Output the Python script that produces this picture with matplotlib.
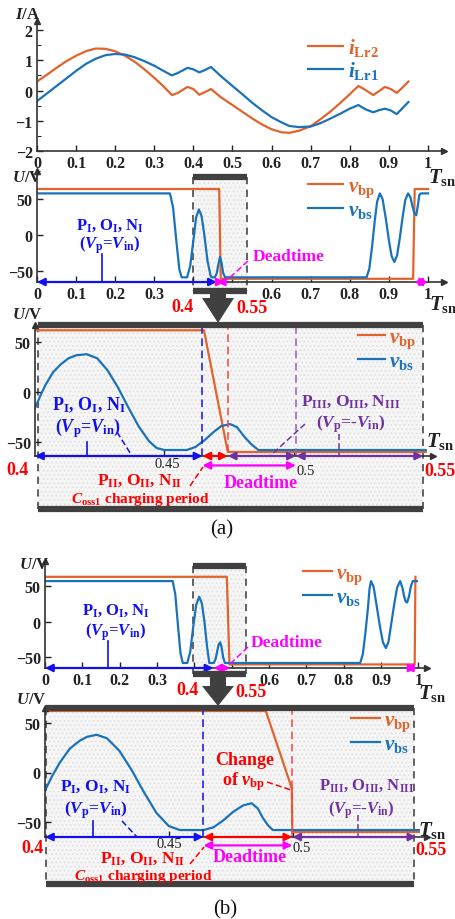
import matplotlib
matplotlib.use('Agg')
import matplotlib.pyplot as plt
from matplotlib.patches import Rectangle, FancyArrow

plt.rcParams.update({
    'font.family': 'Liberation Serif',
    'font.weight': 'bold',
    'mathtext.fontset': 'custom',
    'mathtext.rm': 'Liberation Serif:bold',
    'mathtext.it': 'Liberation Serif:italic:bold',
    'mathtext.bf': 'Liberation Serif:bold',
    'hatch.linewidth': 0.6,
})

# ---- data ----
# currents, full period
t_i = [0, 0.025, 0.05, 0.075, 0.1, 0.125, 0.15, 0.175, 0.2, 0.225, 0.25, 0.275, 0.3, 0.325,
       0.345, 0.36, 0.385, 0.40, 0.415, 0.43, 0.445, 0.47, 0.5, 0.525, 0.55, 0.575, 0.6, 0.625,
       0.645, 0.67, 0.7, 0.725, 0.75, 0.775, 0.8, 0.822, 0.84, 0.86, 0.875, 0.89, 0.905, 0.92,
       0.935, 0.95]
i_lr2 = [0.30, 0.52, 0.75, 0.97, 1.15, 1.30, 1.39, 1.38, 1.30, 1.15, 0.95, 0.70, 0.42, 0.12,
         -0.15, -0.08, 0.12, 0.05, -0.14, -0.05, 0.05, -0.22, -0.48, -0.70, -0.92, -1.12, -1.28, -1.38,
         -1.40, -1.33, -1.18, -0.95, -0.70, -0.42, -0.12, 0.15, 0.02, -0.15, -0.02, 0.12, 0.05, -0.08,
         0.10, 0.30]
i_lr1 = [-0.35, -0.10, 0.15, 0.40, 0.65, 0.88, 1.05, 1.17, 1.21, 1.19, 1.10, 0.97, 0.82, 0.64,
         0.50, 0.58, 0.75, 0.70, 0.60, 0.68, 0.78, 0.48, 0.15, -0.12, -0.40, -0.65, -0.88, -1.05,
         -1.17, -1.21, -1.19, -1.08, -0.93, -0.77, -0.60, -0.48, -0.62, -0.72, -0.65, -0.60, -0.66, -0.78,
         -0.58, -0.38]

# (a) full period voltages
ta_bp = [0, 0.466, 0.470, 0.962, 0.966, 1.0]
va_bp = [63, 63, -60, -60, 63, 63]
ta_bs = [0, 0.340, 0.348, 0.356, 0.364, 0.370, 0.384, 0.392, 0.400, 0.407, 0.414, 0.421, 0.428,
         0.436, 0.444, 0.447, 0.455, 0.460, 0.464, 0.468, 0.472, 0.476, 0.481, 0.843, 0.850,
         0.857, 0.864, 0.870, 0.877, 0.884, 0.892, 0.900, 0.907, 0.914, 0.921, 0.928, 0.935,
         0.942, 0.949, 0.955, 0.960, 0.965, 0.970, 0.974, 0.978, 0.982, 1.0]
va_bs = [57, 57, 38, -6, -47, -58, -58, -42, -7, 24, 35, 26, 0,
         -35, -56, -58, -58, -52, -40, -30, -38, -52, -58, -58, -46,
         -16, 20, 46, 57, 49, 23, -7, -29, -37, -28, -4, 24,
         48, 57, 52, 40, 30, 27, 40, 55, 57, 57]

# (a) zoom 0.4 - 0.55
tz_a_bp = [0.4, 0.4653, 0.4745, 0.551]
vz_a_bp = [62, 62, -60, -60]
tz_a_bs = [0.400, 0.402, 0.404, 0.407, 0.410, 0.413, 0.416, 0.420, 0.424, 0.428, 0.432, 0.436,
           0.440, 0.444, 0.447, 0.450, 0.4586, 0.462, 0.4656, 0.469, 0.472, 0.4754, 0.478,
           0.481, 0.4835, 0.4863, 0.551]
vz_a_bs = [-16, -4, 7, 20, 28, 34, 37, 38, 34, 22, 5, -15,
           -34, -49, -56, -58, -58, -55, -48, -40, -34, -32, -35,
           -45, -52, -58, -58]

# (b) full period voltages
tb_bp = [0, 0.487, 0.494, 0.990, 0.992]
vb_bp = [63, 63, -60, -60, 63]
tb_bs = [0, 0.342, 0.349, 0.356, 0.363, 0.369, 0.381, 0.389, 0.397, 0.405, 0.413, 0.420, 0.427,
         0.434, 0.440, 0.452, 0.457, 0.461, 0.465, 0.469, 0.473, 0.477, 0.482, 0.844, 0.851,
         0.858, 0.865, 0.869, 0.873, 0.880, 0.888, 0.897, 0.905, 0.913, 0.920, 0.927, 0.935,
         0.943, 0.951, 0.957, 0.962, 0.966, 0.970, 0.975, 0.980, 0.985, 0.996]
vb_bs = [57, 57, 38, -5, -45, -58, -58, -42, -7, 24, 35, 26, 0,
         -35, -58, -58, -52, -42, -32, -29, -36, -50, -58, -58, -46,
         -16, 20, 46, 57, 49, 23, -7, -29, -37, -28, -4, 24,
         48, 57, 48, 35, 28, 27, 36, 50, 57, 57]

# (b) zoom 0.4 - 0.55
tz_b_bp = [0.4, 0.4892, 0.4997, 0.4999, 0.551]
vz_b_bp = [62, 62, -16, -60, -60]
tz_b_bs = [0.400, 0.403, 0.406, 0.410, 0.414, 0.417, 0.4209, 0.425, 0.430, 0.435, 0.440, 0.445,
           0.450, 0.4545, 0.464, 0.468, 0.472, 0.476, 0.480, 0.4835, 0.486, 0.488, 0.490, 0.492, 0.551]
vz_b_bs = [-18, -3, 10, 24, 32, 36, 38, 34.5, 22, 2.5, -20, -40.7,
           -54, -58, -58, -55.3, -48.3, -39.6, -33.2, -31, -36.4, -45.8, -53, -58, -58]

# phase boundaries (T_sn)
a_full_pI, a_full_dt = 0.46, 0.48
a_full_dt2 = [0.965, 1.0]
a_pI, a_pII, a_pIII = 0.4647, 0.4745, 0.5008
b_full_pI, b_full_dt = 0.451, 0.496
b_full_dt2 = [0.964, 0.995]
b_pI, b_pII = 0.464, 0.4999

ORANGE = '#E2632B'
BLUE = '#1A72BB'
ABLUE = '#1010F0'
RED = '#FF0000'
MAG = '#FF00FF'
PURP = '#7030A0'
DARK = '#404040'

W, H = 456, 920
fig = plt.figure(figsize=(W / 100, H / 100), dpi=100)


def px_axes(l, t, r, b, z=5):
    ax = fig.add_axes([l / W, 1 - b / H, (r - l) / W, (b - t) / H], zorder=z)
    ax.patch.set_alpha(0)
    return ax


def overlay(z):
    ax = fig.add_axes([0, 0, 1, 1], zorder=z)
    ax.set_xlim(0, W)
    ax.set_ylim(H, 0)
    ax.axis('off')
    return ax


bg = overlay(0)
fg = overlay(20)


def style(ax, xticks, xlabels, yticks):
    for s in ['top', 'right']:
        ax.spines[s].set_visible(False)
    for s in ['left', 'bottom']:
        ax.spines[s].set_color('#333333')
        ax.spines[s].set_linewidth(1.2)
    ax.set_xticks(xticks)
    ax.set_xticklabels(xlabels)
    ax.set_yticks(yticks)
    ax.tick_params(direction='in', length=4, width=1, labelsize=11.5, colors='#222222', pad=3)
    ax.plot(1, 0, marker='>', color='#333333', ms=5, transform=ax.transAxes, clip_on=False)
    ax.plot(0, 1, marker='^', color='#333333', ms=5, transform=ax.transAxes, clip_on=False)


def legend_at(ax, x, y, hl):
    ax.legend(loc='upper left', bbox_to_anchor=(x / W, 1 - y / H), bbox_transform=fig.transFigure,
              frameon=False, borderpad=0, borderaxespad=0, handlelength=hl, handletextpad=0.2,
              labelspacing=0.05, fontsize=15, labelcolor='linecolor')


def span(ax, x0, x1, c, yf=0.0):
    tr = ax.get_xaxis_transform()
    ax.annotate('', xy=(x1, yf), xytext=(x0, yf), xycoords=tr, textcoords=tr,
                arrowprops=dict(arrowstyle='<|-|>,head_length=0.5,head_width=0.25', color=c,
                                lw=1.6, shrinkA=0, shrinkB=0, mutation_scale=9),
                annotation_clip=False)


def vdash(ax, x, c, y0=0.0, y1=1.0):
    ax.plot([x, x], [y0, y1], color=c, ls=(0, (5, 3)), lw=1.1,
            transform=ax.get_xaxis_transform(), clip_on=False)


def zoombox(x, y, w, h):
    bg.add_patch(Rectangle((x, y), w, h, facecolor='#f6f6f6', edgecolor='#dedede', hatch='....', lw=0))
    for xx in (x, x + w):
        bg.plot([xx, xx], [y, y + h], color='#555555', ls=(0, (4, 3)), lw=1.3)
    for yy in (y, y + h):
        fg.plot([x, x + w], [yy, yy], color=DARK, lw=4.5, solid_capstyle='butt')


def txt(x, y, s, c, fs, **kw):
    fg.text(x, y, s, color=c, fontsize=fs, ha='center', va='center', **kw)


def lead(xs, ys, c):
    fg.plot(xs, ys, color=c, ls=(0, (4, 2)), lw=1.1)


full_ticks = [round(0.1 * k, 1) for k in range(11)]
full_labels = ['0'] + ['%.1f' % v for v in full_ticks[1:-1]] + ['1']
full_labels_cut = [l if l not in ('0.4', '0.5') else '' for l in full_labels]

# ---- panel 1: currents ----
ax1 = px_axes(37, 22, 444, 152)
ax1.plot(t_i, i_lr2, color=ORANGE, lw=1.6, label=r'$i_{\mathbf{Lr2}}$')
ax1.plot(t_i, i_lr1, color=BLUE, lw=1.6, label=r'$i_{\mathbf{Lr1}}$')
ax1.set_xlim(0, 1.041)
ax1.set_ylim(-2, 2.3)
style(ax1, full_ticks, full_labels, [-2, -1, 0, 1, 2])
ax1.set_yticks([-1.5, -0.5, 0.5, 1.5], minor=True)
ax1.tick_params(which='minor', direction='in', length=3)
legend_at(ax1, 308, 37, 1.7)
txt(28, 15, r'$I$/A', '#222222', 12)
txt(442, 177, r'$T_{\mathbf{sn}}$', '#222222', 15)

# ---- panel 2: (a) full period ----
zoombox(193, 178, 54, 114)
ax2 = px_axes(37, 172, 444, 283)
ax2.plot(ta_bp, va_bp, color=ORANGE, lw=1.6, label=r'$v_{\mathbf{bp}}$')
ax2.plot(ta_bs, va_bs, color=BLUE, lw=1.6, label=r'$v_{\mathbf{bs}}$')
ax2.set_xlim(0, 1.041)
ax2.set_ylim(-64.4, 87.7)
style(ax2, full_ticks, full_labels_cut, [-50, 0, 50])
legend_at(ax2, 308, 177, 1.7)
span(ax2, 0, a_full_pI, ABLUE)
span(ax2, a_full_pI, a_full_dt, MAG)
span(ax2, a_full_dt2[0], a_full_dt2[1], MAG)
txt(27, 178, r'$U$/V', '#222222', 12)
txt(110, 226, r'P$_{\mathrm{I}}$, O$_{\mathrm{I}}$, N$_{\mathrm{I}}$', ABLUE, 12)
txt(110, 245, r'($V_{\mathrm{p}}$=$V_{\mathrm{in}}$)', ABLUE, 12)
fg.plot([102, 102], [255, 283], color=ABLUE, lw=1.2)
txt(289, 257, 'Deadtime', MAG, 12.5)
lead([248, 227], [262, 281], MAG)
txt(183, 308, '0.4', RED, 13)
txt(252, 309, '0.55', RED, 13)
txt(443, 305, r'$T_{\mathbf{sn}}$', '#222222', 15)
fg.add_patch(FancyArrow(218, 290, 0, 34, width=16, head_width=32, head_length=25,
                        length_includes_head=True, color=DARK, lw=0))

# ---- panel 3: (a) zoom ----
zoombox(38, 326, 385, 184)
ax3 = px_axes(35, 326, 433, 457)
ax3.plot(tz_a_bp, vz_a_bp, color=ORANGE, lw=1.6, label=r'$v_{\mathbf{bp}}$')
ax3.plot(tz_a_bs, vz_a_bs, color=BLUE, lw=1.6, label=r'$v_{\mathbf{bs}}$')
ax3.set_xlim(0.4, 0.5538)
ax3.set_ylim(-64, 67.3)
style(ax3, [0.45, 0.5], ['', ''], [-50, 0, 50])
legend_at(ax3, 358, 328, 1.3)
vdash(ax3, a_pI, ABLUE)
vdash(ax3, a_pII, '#FF4040', 0.03)
vdash(ax3, a_pIII, '#9060C0')
span(ax3, 0.4, a_pI, ABLUE)
span(ax3, a_pI, a_pII, RED)
span(ax3, a_pII, a_pIII, PURP)
span(ax3, a_pIII, 0.55, PURP)
span(ax3, a_pI, a_pIII, MAG, -0.072)
txt(27, 315, r'$U$/V', '#222222', 12)
txt(89, 405, r'P$_{\mathrm{I}}$, O$_{\mathrm{I}}$, N$_{\mathrm{I}}$', ABLUE, 13)
txt(88, 428, r'($V_{\mathrm{p}}$=$V_{\mathrm{in}}$)', ABLUE, 13)
fg.plot([87, 87], [443, 457], color=ABLUE, lw=1.2)
lead([117, 132], [433, 457], ABLUE)
txt(140, 481, r'P$_{\mathrm{II}}$, O$_{\mathrm{II}}$, N$_{\mathrm{II}}$', RED, 12.5)
txt(140, 500, r'$C_{\mathrm{oss1}}$ charging period', RED, 11)
lead([190, 203], [487, 468], RED)
txt(261, 484, 'Deadtime', MAG, 13)
txt(351, 402, r'P$_{\mathrm{III}}$, O$_{\mathrm{III}}$, N$_{\mathrm{III}}$', PURP, 12.5)
txt(351, 424, r'($V_{\mathrm{p}}$=-$V_{\mathrm{in}}$)', PURP, 12.5)
lead([339, 339], [435, 457], PURP)
lead([305, 270], [425, 457], PURP)
txt(167, 465, '0.45', '#222222', 10.5, fontweight='normal')
txt(306, 472, '0.5', '#222222', 10.5, fontweight='normal')
txt(18, 471, '0.4', RED, 13)
txt(440, 472, '0.55', RED, 13)
txt(440, 442, r'$T_{\mathbf{sn}}$', '#222222', 15)
txt(222, 530, '(a)', '#111111', 15, fontweight='normal')

# ---- panel 4: (b) full period ----
zoombox(193, 567, 53, 108)
ax4 = px_axes(45, 562, 427, 669)
ax4.plot(tb_bp, vb_bp, color=ORANGE, lw=1.6, label=r'$v_{\mathbf{bp}}$')
ax4.plot(tb_bs, vb_bs, color=BLUE, lw=1.6, label=r'$v_{\mathbf{bs}}$')
ax4.set_xlim(0, 1.023)
ax4.set_ylim(-65, 85.2)
style(ax4, full_ticks, full_labels_cut, [-50, 0, 50])
legend_at(ax4, 303, 564, 1.4)
span(ax4, 0, b_full_pI, ABLUE)
span(ax4, b_full_pI, b_full_dt, MAG)
span(ax4, b_full_dt2[0], b_full_dt2[1], MAG)
txt(34, 565, r'$U$/V', '#222222', 12)
txt(116, 611, r'P$_{\mathrm{I}}$, O$_{\mathrm{I}}$, N$_{\mathrm{I}}$', ABLUE, 12)
txt(116, 632, r'($V_{\mathrm{p}}$=$V_{\mathrm{in}}$)', ABLUE, 12)
fg.plot([108, 108], [642, 669], color=ABLUE, lw=1.2)
txt(287, 643, 'Deadtime', MAG, 12.5)
lead([248, 230], [648, 665], MAG)
txt(188, 691, '0.4', RED, 13)
txt(251, 693, '0.55', RED, 13)
txt(432, 694, r'$T_{\mathbf{sn}}$', '#222222', 15)
fg.add_patch(FancyArrow(218, 673, 0, 34, width=16, head_width=32, head_length=20,
                        length_includes_head=True, color=DARK, lw=0))

# ---- panel 5: (b) zoom ----
zoombox(46, 709, 368, 176)
ax5 = px_axes(45, 709, 427, 838)
ax5.plot(tz_b_bp, vz_b_bp, color=ORANGE, lw=1.6, label=r'$v_{\mathbf{bp}}$')
ax5.plot(tz_b_bs, vz_b_bs, color=BLUE, lw=1.6, label=r'$v_{\mathbf{bs}}$')
ax5.set_xlim(0.4, 0.5543)
ax5.set_ylim(-65, 65)
style(ax5, [0.45, 0.5], ['', ''], [-50, 0, 50])
legend_at(ax5, 351, 711, 1.4)
vdash(ax5, b_pI, ABLUE)
vdash(ax5, b_pII, '#FF4040')
span(ax5, 0.4, b_pI, ABLUE)
span(ax5, b_pI, b_pII, RED)
span(ax5, b_pII, 0.55, PURP)
span(ax5, b_pI, b_pII, MAG, -0.065)
txt(31, 700, r'$U$/V', '#222222', 12)
txt(96, 787, r'P$_{\mathrm{I}}$, O$_{\mathrm{I}}$, N$_{\mathrm{I}}$', ABLUE, 12.5)
txt(96, 810, r'($V_{\mathrm{p}}$=$V_{\mathrm{in}}$)', ABLUE, 12.5)
fg.plot([93, 93], [822, 838], color=ABLUE, lw=1.2)
lead([122, 137], [822, 838], ABLUE)
txt(143, 859, r'P$_{\mathrm{II}}$, O$_{\mathrm{II}}$, N$_{\mathrm{II}}$', RED, 12.5)
txt(143, 877, r'$C_{\mathrm{oss1}}$ charging period', RED, 11)
lead([190, 204], [865, 848], RED)
txt(250, 858, 'Deadtime', MAG, 13)
txt(245, 761, 'Change', RED, 13)
txt(243, 782, r'of $v_{\mathbf{bp}}$', RED, 13)
lead([267, 291], [783, 791], RED)
txt(367, 786, r'P$_{\mathrm{III}}$, O$_{\mathrm{III}}$, N$_{\mathrm{III}}$', PURP, 12)
txt(361, 810, r'($V_{\mathrm{p}}$=-$V_{\mathrm{in}}$)', PURP, 12)
lead([358, 358], [816, 838], PURP)
txt(169, 845, '0.45', '#222222', 10.5, fontweight='normal')
txt(302, 849, '0.5', '#222222', 10.5, fontweight='normal')
txt(33, 849, '0.4', RED, 13)
txt(431, 851, '0.55', RED, 13)
txt(432, 831, r'$T_{\mathbf{sn}}$', '#222222', 15)
txt(225, 910, '(b)', '#111111', 15, fontweight='normal')

fig.savefig('out.png', dpi=100)
